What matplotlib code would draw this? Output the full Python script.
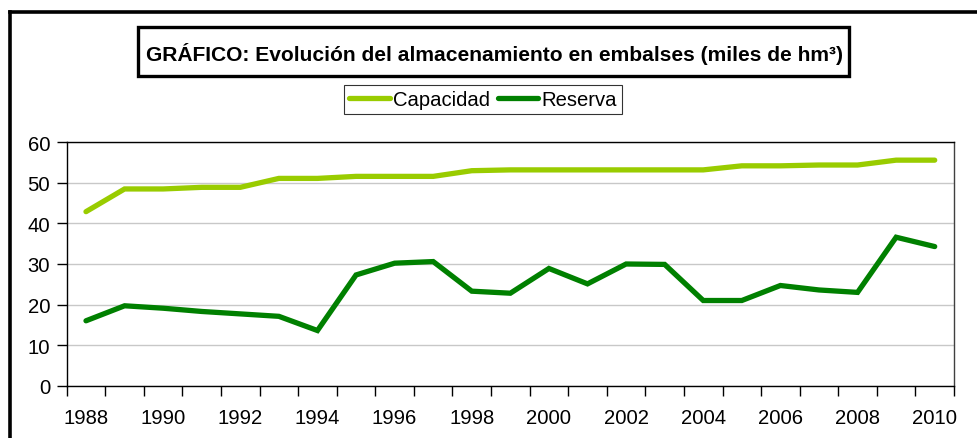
import matplotlib
matplotlib.use('Agg')
import matplotlib.pyplot as plt
from matplotlib.patches import Rectangle
from matplotlib.lines import Line2D

plt.rcParams['font.family'] = ['Liberation Sans', 'DejaVu Sans']

years = [1988, 1989, 1990, 1991, 1992, 1993, 1994, 1995, 1996, 1997, 1998, 1999,
         2000, 2001, 2002, 2003, 2004, 2005, 2006, 2007, 2008, 2009, 2010]
capacidad = [42.9, 48.5, 48.5, 48.9, 48.9, 51.1, 51.1, 51.6, 51.6, 51.6, 53.0, 53.2,
             53.2, 53.2, 53.2, 53.2, 53.2, 54.2, 54.2, 54.4, 54.4, 55.6, 55.6]
reserva = [16.0, 19.7, 19.1, 18.3, 17.7, 17.1, 13.6, 27.3, 30.2, 30.6, 23.3, 22.8,
           28.9, 25.1, 30.0, 29.9, 21.0, 21.0, 24.7, 23.6, 23.0, 36.6, 34.3]
series_names = ['Capacidad', 'Reserva']
series_colors = ['#99cc00', '#008000']
title = 'GRÁFICO: Evolución del almacenamiento en embalses (miles de hm³)'

W, H = 978, 439
fig = plt.figure(figsize=(W / 100, H / 100), dpi=100)

def fx(px):
    return px / W

def fy(py):
    return 1 - py / H

ax = fig.add_axes([fx(66.7), fy(386.7), fx(954) - fx(66.7), fy(143.3) - fy(386.7)])

x = list(range(len(years)))
handles = []
for vals, name, col in zip([capacidad, reserva], series_names, series_colors):
    h, = ax.plot(x, vals, color=col, lw=3.8, solid_capstyle='round',
                 solid_joinstyle='miter', label=name, zorder=3)
    handles.append(h)

ax.set_xlim(-0.5, len(years) - 0.5)
ax.set_ylim(0, 60)
ax.set_yticks([0, 10, 20, 30, 40, 50, 60])
ax.yaxis.grid(True, color='#c8c8c8', lw=1)
ax.set_axisbelow(True)

# tick marks at category boundaries, labels every other year at category centres
ax.set_xticks([i - 0.5 for i in range(len(years) + 1)])
ax.set_xticklabels([])
ax.set_xticks(x[::2], minor=True)
ax.set_xticklabels([str(y) for y in years[::2]], minor=True)
ax.tick_params(axis='x', which='major', length=7, width=1, direction='out')
ax.tick_params(axis='x', which='minor', length=0, pad=16, labelsize=14.6)
ax.tick_params(axis='y', length=7, width=1, direction='out', pad=5, labelsize=14.6)

for s in ax.spines.values():
    s.set_color('black')
    s.set_linewidth(1)
ax.spines['right'].set_color('#404040')

# title box
fig.add_artist(Rectangle((fx(138), fy(77)), fx(849) - fx(138), fy(28) - fy(77),
                         transform=fig.transFigure, fill=False, ec='black', lw=2.4))
fig.text(fx(494), fy(54), title, ha='center', va='center',
         fontsize=15.1, fontweight='bold')

leg = fig.legend(handles=handles, loc='center', bbox_to_anchor=(fx(483), fy(100.5)),
                 ncol=2, fontsize=14.6, frameon=True, fancybox=False,
                 handlelength=2.0, handletextpad=0.15, columnspacing=0.4,
                 borderpad=0.25, borderaxespad=0)
leg.get_frame().set_edgecolor('black')
leg.get_frame().set_linewidth(0.8)

# outer frame (left and top edges)
fig.add_artist(Line2D([fx(10), fx(10)], [0, fy(13)], color='black', lw=2.6))
fig.add_artist(Line2D([fx(10), 1], [fy(13), fy(13)], color='black', lw=2.6))

fig.savefig('out.png', dpi=100)
